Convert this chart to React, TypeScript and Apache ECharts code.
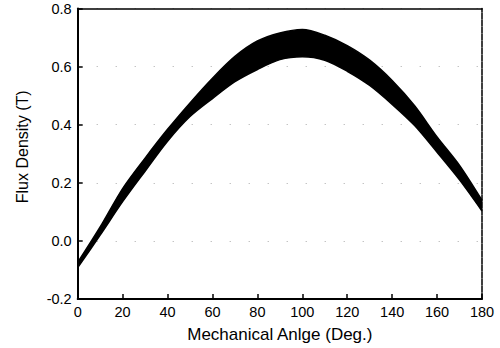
import React, { useEffect, useRef } from "react";
import * as echarts from "echarts";

const angles = [0, 10, 20, 30, 40, 50, 60, 70, 80, 90, 100, 110, 120, 130, 140, 150, 160, 170, 180];
const lowerFlux = [-0.092, 0.02, 0.135, 0.24, 0.343, 0.428, 0.49, 0.548, 0.59, 0.624, 0.634, 0.622, 0.584, 0.535, 0.47, 0.397, 0.305, 0.21, 0.103];
const upperFlux = [-0.074, 0.048, 0.18, 0.285, 0.384, 0.475, 0.56, 0.635, 0.688, 0.716, 0.728, 0.708, 0.672, 0.622, 0.552, 0.465, 0.358, 0.26, 0.14];
const yTicks = [-0.2, 0.0, 0.2, 0.4, 0.6, 0.8];

export default function App() {
  const ref = useRef<HTMLDivElement>(null);
  useEffect(() => {
    if (!ref.current) return;
    const chart = echarts.init(ref.current, null, { renderer: "svg" });
    const font = "Liberation Sans, Arial, Helvetica, sans-serif";
    const bandData = upperFlux.map((u, i) => +(u - lowerFlux[i]).toFixed(4));
    chart.setOption({
      animation: false,
      backgroundColor: "#fff",
      grid: { left: 77.7, right: 18, top: 8.5, bottom: 48, containLabel: false },
      xAxis: [
        {
          type: "category",
          data: angles.map(String),
          boundaryGap: false,
          name: "Mechanical Anlge (Deg.)",
          nameLocation: "middle",
          nameGap: 27,
          nameTextStyle: { fontFamily: font, fontSize: 17, color: "#000" },
          axisLine: { onZero: false, lineStyle: { color: "#000", width: 2 } },
          axisTick: { inside: true, length: 5, interval: 1, alignWithLabel: true, lineStyle: { color: "#000", width: 1.5 } },
          axisLabel: { fontFamily: font, fontSize: 14.5, color: "#000", margin: 5, interval: 1 },
          splitLine: { show: false },
        },
        {
          type: "value",
          position: "top",
          min: 0,
          max: 180,
          interval: 20,
          axisLine: { show: true, onZero: false, lineStyle: { color: "#000", width: 1.5 } },
          axisTick: { show: false },
          axisLabel: { show: false },
          splitLine: { show: false },
        },
      ],
      yAxis: [
        {
          type: "value",
          min: yTicks[0],
          max: yTicks[yTicks.length - 1],
          interval: 0.2,
          name: "Flux Density (T)",
          nameLocation: "middle",
          nameGap: 47,
          nameTextStyle: { fontFamily: font, fontSize: 16, color: "#000", padding: [0, 0, 0, 14] },
          axisLine: { show: true, onZero: false, lineStyle: { color: "#000", width: 2 } },
          axisTick: { inside: true, length: 5, lineStyle: { color: "#000", width: 1.5 } },
          axisLabel: {
            fontFamily: font,
            fontSize: 14.5,
            color: "#000",
            margin: 6,
            formatter: (v: number) => v.toFixed(1),
          },
          splitLine: {
            show: true,
            lineStyle: { color: "#aaa", width: 1, type: [1, 18] },
          },
        },
        {
          type: "value",
          position: "right",
          min: -0.2,
          max: 0.8,
          interval: 0.2,
          axisLine: { show: true, onZero: false, lineStyle: { color: "#000", width: 1.5, type: [6, 1] } },
          axisTick: { show: false },
          axisLabel: { show: false },
          splitLine: { show: false },
        },
      ],
      series: [
        {
          type: "line",
          data: lowerFlux,
          stack: "band",
          stackStrategy: "all",
          smooth: 0.3,
          symbol: "none",
          lineStyle: { color: "#000", width: 1.5 },
          z: 3,
        },
        {
          type: "line",
          data: bandData,
          stack: "band",
          stackStrategy: "all",
          smooth: 0.3,
          symbol: "none",
          lineStyle: { color: "#000", width: 1.5 },
          areaStyle: { color: "#000", opacity: 1 },
          z: 3,
        },
      ],
    });
    return () => chart.dispose();
  }, []);
  return <div ref={ref} style={{ width: 500, height: 348, position: "absolute", left: 0, top: 0 }} />;
}
